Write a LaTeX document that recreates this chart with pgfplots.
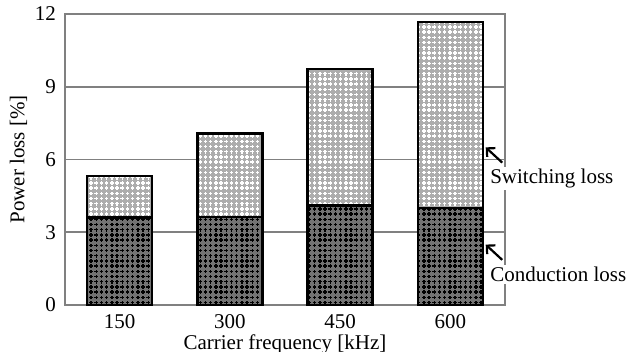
\documentclass[border=0pt]{standalone}
\usepackage{fontspec}
\setmainfont{Liberation Serif}
\usepackage{pgfplots}
\pgfplotsset{compat=1.18}
\usetikzlibrary{patterns,arrows.meta}
\pgfdeclarepatternformonly{plusgrid}{\pgfpoint{-0.2pt}{-0.2pt}}{\pgfpoint{2.8pt}{2.8pt}}{\pgfpoint{2.6pt}{2.6pt}}{
  \pgfsetlinewidth{0.7pt}
  \pgfpathmoveto{\pgfpoint{0.4pt}{1.3pt}}\pgfpathlineto{\pgfpoint{2.2pt}{1.3pt}}
  \pgfpathmoveto{\pgfpoint{1.3pt}{0.4pt}}\pgfpathlineto{\pgfpoint{1.3pt}{2.2pt}}
  \pgfusepath{stroke}
}
\begin{document}
\begin{tikzpicture}
\begin{axis}[
  at={(0,0)}, anchor=south west,
  scale only axis, width=220pt, height=145.5pt,
  ybar stacked, bar width=32.5pt,
  xmin=-0.495, xmax=3.495, ymin=0, ymax=12,
  xtick=data, xticklabels={150,300,450,600},
  ytick={0,3,6,9,12},
  ymajorgrids, grid style={gray, line width=0.8pt},
  axis line style={gray, line width=0.8pt},
  major tick length=0pt,
  font=\fontsize{10.5pt}{12pt}\selectfont,
  /pgf/number format/assume math mode=true,
  xlabel={Carrier frequency [kHz]},
  ylabel={Power loss [\%]},
  xlabel style={yshift=3.5pt},
  ylabel style={yshift=-3pt},
  xticklabel style={yshift=-1pt},
  yticklabel style={xshift=-1pt},
  clip=false,
]
\addplot[draw=black, line width=1.2pt, preaction={fill=black!55}, pattern=plusgrid, pattern color=black]
  coordinates {(0,3.60) (1,3.62) (2,4.11) (3,3.99)};
\addplot[draw=black, line width=1.2pt, preaction={fill=black!32}, pattern=plusgrid, pattern color=white]
  coordinates {(0,1.72) (1,3.46) (2,5.62) (3,7.69)};
\node[fill=white, inner sep=1pt, anchor=west] at (axis cs:3.34,5.22) {Switching loss};
\node[fill=white, inner sep=1pt, anchor=west] at (axis cs:3.34,1.26) {Conduction loss};
\draw[line width=1.1pt, -{Straight Barb[length=3pt,width=6pt]}] (axis cs:3.47,5.87) -- (axis cs:3.32,6.50);
\draw[line width=1.1pt, -{Straight Barb[length=3pt,width=6pt]}] (axis cs:3.47,1.86) -- (axis cs:3.32,2.49);
\end{axis}
\pgfresetboundingbox
\path (-32.5pt,-23.5pt) rectangle (288.5pt,152.5pt);
\end{tikzpicture}
\end{document}
